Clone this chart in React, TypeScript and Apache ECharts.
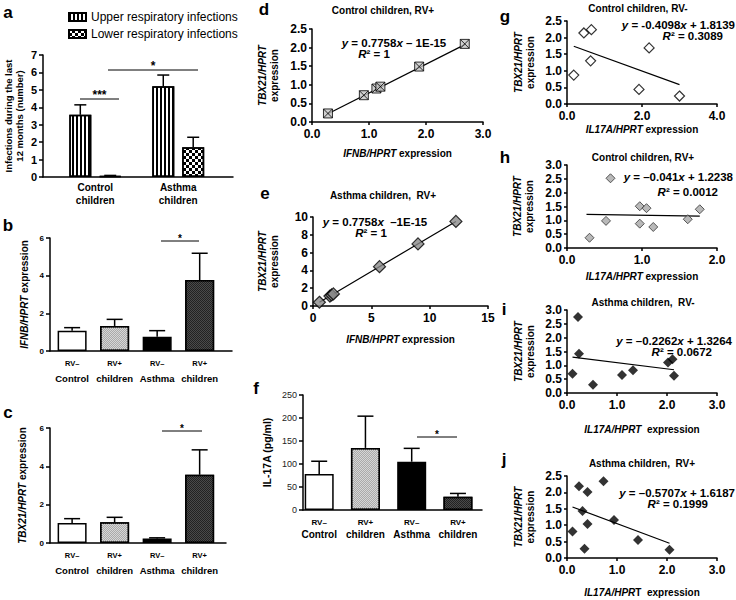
import React, { useEffect, useRef } from "react";
import * as echarts from "echarts";

const FONT = "Arial, 'Liberation Sans', Helvetica, sans-serif";

// ---------- Panel a ----------
const aGroups = ["Control\nchildren", "Asthma\nchildren"];
const aLegend = ["Upper respiratory infections", "Lower respiratory infections"];
const aUpperMean = [3.57, 5.2];
const aUpperSem = [0.57, 0.65];
const aLowerMean = [0.05, 1.71];
const aLowerSem = [0.04, 0.57];

// ---------- Panels b, c, f ----------
const rvRow = ["RV–", "RV+", "RV–", "RV+"];
const groupRow = ["Control", "children", "Asthma", "children"];
const bMean = [1.08, 1.33, 0.76, 3.77];
const bSem = [0.16, 0.35, 0.32, 1.42];
const cMean = [1.04, 1.08, 0.24, 3.56];
const cSem = [0.23, 0.26, 0.03, 1.3];
const fMean = [78, 135, 105, 29];
const fSem = [28, 69, 29, 7];

// ---------- Scatter panels ----------
const dX = [0.28, 0.91, 1.13, 1.2, 1.88, 2.68];
const dY = [0.23, 0.72, 0.9, 0.95, 1.49, 2.1];
const dFit = [[0.28, 0.22], [2.68, 2.08]];

const eX = [0.55, 1.45, 1.6, 1.75, 5.7, 9.0, 12.25];
const eY = [0.42, 1.12, 1.24, 1.36, 4.42, 6.98, 9.5];
const eFit = [[0.55, 0.43], [12.25, 9.5]];

const gX = [0.18, 0.45, 0.65, 0.63, 1.92, 2.19, 3.0];
const gY = [0.87, 2.14, 2.24, 1.3, 0.44, 1.69, 0.24];
const gFit = [[0.18, 1.74], [3.0, 0.585]];

const hX = [0.3, 0.58, 0.52, 0.97, 0.97, 1.06, 1.15, 1.61, 1.77];
const hY = [0.37, 2.52, 0.98, 1.51, 0.88, 1.44, 0.76, 1.04, 1.4];
const hFit = [[0.26, 1.213], [1.77, 1.151]];

const iX = [0.11, 0.22, 0.24, 0.52, 1.1, 1.32, 2.02, 2.11, 2.14];
const iY = [0.7, 2.75, 1.42, 0.3, 0.65, 0.82, 1.1, 1.22, 0.62];
const iFit = [[0.11, 1.3], [2.14, 0.84]];

const jX = [0.11, 0.24, 0.31, 0.35, 0.41, 0.41, 0.73, 0.94, 1.42, 2.05];
const jY = [0.81, 2.19, 1.43, 0.28, 2.01, 1.04, 2.34, 1.16, 0.55, 0.25];
const jFit = [[0.11, 1.556], [2.05, 0.449]];

// ---------- styles ----------
const decalStripes = {
  symbol: "rect", symbolSize: 1, color: "#000", backgroundColor: "#fff",
  dashArrayX: [2, 2], dashArrayY: [4, 0],
};
const decalChecker = {
  symbol: "rect", symbolSize: 1, color: "#000", backgroundColor: "#fff",
  dashArrayX: [[3, 3], [0, 3, 3, 0]], dashArrayY: [3, 0],
};
const decalLight = {
  symbol: "rect", symbolSize: 1, color: "#aaaaaa", backgroundColor: "#f0f0f0",
  dashArrayX: [[1, 1], [0, 1, 1, 0]], dashArrayY: [1, 0],
};
const decalDark = {
  symbol: "rect", symbolSize: 1, color: "#4a4a4a", backgroundColor: "#0a0a0a",
  dashArrayX: [[1, 1], [0, 1, 1, 0]], dashArrayY: [1, 0],
};
const barItemStyles = [
  { color: "#ffffff", borderColor: "#000", borderWidth: 1.5 },
  { color: "#d6d6d6", borderColor: "#000", borderWidth: 1.5, decal: decalLight },
  { color: "#000000", borderColor: "#000", borderWidth: 1.5 },
  { color: "#222222", borderColor: "#000", borderWidth: 1.5, decal: decalDark },
];

const axisLine = { show: true, lineStyle: { color: "#000", width: 1.5 } };
const tickOut = { show: true, inside: false, length: 4, lineStyle: { color: "#000", width: 1.5 } };
const italicRich = (size: number) => ({
  i: { fontStyle: "italic", fontWeight: "bold", fontSize: size, fontFamily: FONT, color: "#000" },
});

function errorSeries(axisIdx: number, means: number[], sems: number[], xs: number[], offset: number, cap: number) {
  return {
    type: "custom",
    xAxisIndex: axisIdx,
    yAxisIndex: axisIdx,
    z: 1,
    data: means.map((m, k) => [xs[k], m, m + sems[k]]),
    encode: { x: 0, y: [1, 2] },
    renderItem: (params: any, api: any) => {
      const lo = api.coord([api.value(0), api.value(1)]);
      const hi = api.coord([api.value(0), api.value(2)]);
      const x = lo[0] + offset;
      return {
        type: "group",
        children: [
          { type: "line", shape: { x1: x, y1: lo[1], x2: x, y2: hi[1] }, style: { stroke: "#000", lineWidth: 1.5 } },
          { type: "line", shape: { x1: x - cap / 2, y1: hi[1], x2: x + cap / 2, y2: hi[1] }, style: { stroke: "#000", lineWidth: 1.5 } },
        ],
      };
    },
  };
}

const pos4 = [1, 2, 3, 4];
const catLabel = (lh1: number, lh2: number, margin: number, s1: number, s2: number) => ({
  customValues: pos4,
  margin,
  formatter: (v: number) => {
    const k = Math.round(v) - 1;
    return `{r|${rvRow[k]}}\n{g|${groupRow[k]}}`;
  },
  rich: {
    r: { fontSize: s1, fontWeight: "bold", fontFamily: FONT, color: "#000", lineHeight: lh1 },
    g: { fontSize: s2, fontWeight: "bold", fontFamily: FONT, color: "#000", lineHeight: lh2 },
  },
});

function scatterAxes(idx: number, xr: [number, number, number], yr: [number, number, number], xDec: number, yDec: number, xName: string, xGap: number, yGap: number) {
  const labelStyle = { fontSize: 12, fontWeight: "bold", fontFamily: FONT, color: "#000" };
  return {
    x: {
      gridIndex: idx, type: "value", min: xr[0], max: xr[1], interval: xr[2],
      axisLine, axisTick: { ...tickOut, length: 3 }, splitLine: { show: false },
      axisLabel: { ...labelStyle, margin: 6, formatter: (v: number) => v.toFixed(xDec) },
      name: xName, nameLocation: "middle", nameGap: xGap,
      nameTextStyle: { fontSize: 10, fontWeight: "bold", fontFamily: FONT, color: "#000", rich: italicRich(10) },
    },
    y: {
      gridIndex: idx, type: "value", min: yr[0], max: yr[1], interval: yr[2],
      axisLine, axisTick: { ...tickOut, length: 3 }, splitLine: { show: false },
      axisLabel: { ...labelStyle, margin: 5, formatter: (v: number) => v.toFixed(yDec) },
      name: "{i|TBX21/HPRT}\nexpression", nameLocation: "middle", nameGap: yGap,
      nameTextStyle: { fontSize: 10, fontWeight: "bold", fontFamily: FONT, color: "#000", lineHeight: 12, rich: italicRich(10) },
    },
  };
}

function scatterSeries(idx: number, xs: number[], ys: number[], fit: number[][], symbol: string, size: number, itemStyle: any) {
  return [
    {
      type: "line", xAxisIndex: idx, yAxisIndex: idx, data: fit, symbol: "none",
      lineStyle: { color: "#000", width: 1.2 }, z: 2,
    },
    {
      type: "scatter", xAxisIndex: idx, yAxisIndex: idx, symbol, symbolSize: size,
      data: xs.map((x, k) => [x, ys[k]]), itemStyle, z: 3,
    },
  ];
}

const txt = (x: number, y: number, text: string, size: number, align = "center", extra: any = {}) => ({
  type: "text", x, y,
  style: {
    text, fontSize: size, fontWeight: "bold", fontFamily: FONT, fill: "#000",
    align, verticalAlign: "middle", textAlign: align, textVerticalAlign: "middle", ...extra,
  },
});
const eqRich = { i: { fontStyle: "italic", fontWeight: "bold", fontSize: 11.5, fontFamily: FONT, fill: "#000" } };
const eq = (x: number, y: number, text: string, align = "center") => txt(x, y, text, 11.5, align, { rich: eqRich });
const hline = (x1: number, x2: number, y: number) => ({
  type: "line", shape: { x1, y1: y, x2, y2: y }, style: { stroke: "#000", lineWidth: 1 },
});

export default function App() {
  const ref = useRef<HTMLDivElement>(null);
  useEffect(() => {
    if (!ref.current) return;
    const chart = echarts.init(ref.current, null, { renderer: "svg" });

    const sd = scatterAxes(3, [0, 3, 1], [0, 2.5, 0.5], 1, 1, "{i|IFNB/HPRT} expression", 26, 32);
    const se = scatterAxes(4, [0, 15, 5], [0, 10, 2], 0, 0, "{i|IFNB/HPRT} expression", 28, 33);
    const sg = scatterAxes(6, [0, 4, 2], [0, 2.5, 0.5], 1, 1, "{i|IL17A/HPRT} expression", 20, 31);
    const sh = scatterAxes(7, [0, 2, 1], [0, 3, 0.5], 1, 1, "{i|IL17A/HPRT} expression", 23, 32);
    const si = scatterAxes(8, [0, 3, 1], [0, 3, 0.5], 1, 1, "{i|IL17A/HPRT}  expression", 31, 31);
    const sj = scatterAxes(9, [0, 3, 1], [0, 2.5, 0.5], 1, 1, "{i|IL17A/HPR}T  expression", 29, 31);

    const aBarW = 22;
    const aGap = 0.36;
    const aOff = (aBarW * (1 + aGap)) / 2;

    const option: any = {
      animation: false,
      backgroundColor: "#fff",
      textStyle: { fontFamily: FONT },
      legend: {
        left: 63, top: 6, orient: "vertical", itemWidth: 17, itemHeight: 8, itemGap: 5,
        icon: "rect", selectedMode: false, data: aLegend,
        textStyle: { fontSize: 12, fontFamily: FONT, color: "#000" },
      },
      grid: [
        { left: 43, top: 55, width: 190, height: 122 },
        { left: 50, top: 238, width: 182, height: 113 },
        { left: 50, top: 428, width: 176, height: 115 },
        { left: 312, top: 29, width: 171, height: 93 },
        { left: 313, top: 217, width: 175, height: 89 },
        { left: 303, top: 395, width: 179, height: 115 },
        { left: 567, top: 21, width: 150, height: 83 },
        { left: 567, top: 165, width: 150, height: 83 },
        { left: 567, top: 310, width: 150, height: 83 },
        { left: 567, top: 476, width: 150, height: 82 },
      ],
      xAxis: [
        {
          gridIndex: 0, type: "value", min: 0.37, max: 2.66, axisLine, axisTick: { show: false }, splitLine: { show: false },
          axisLabel: {
            customValues: [1, 2], margin: 4, fontSize: 10, fontWeight: "bold", color: "#000", lineHeight: 13, fontFamily: FONT,
            formatter: (v: number) => aGroups[Math.round(v) - 1],
          },
        },
        { gridIndex: 1, type: "value", min: 0.48, max: 4.76, axisLine, axisTick: { show: false }, splitLine: { show: false }, axisLabel: catLabel(14, 16, 5, 7.5, 9.5) },
        { gridIndex: 2, type: "value", min: 0.48, max: 4.62, axisLine, axisTick: { show: false }, splitLine: { show: false }, axisLabel: catLabel(14, 16, 5, 7.5, 9.5) },
        sd.x, se.x,
        { gridIndex: 5, type: "value", min: 0.65, max: 4.52, axisLine, axisTick: { show: false }, splitLine: { show: false }, axisLabel: catLabel(12, 12, 6, 8, 10) },
        sg.x, sh.x, si.x, sj.x,
      ],
      yAxis: [
        {
          gridIndex: 0, type: "value", min: 0, max: 7, interval: 1, axisLine, axisTick: tickOut, splitLine: { show: false },
          axisLabel: { fontSize: 11, fontWeight: "bold", color: "#000", margin: 6, fontFamily: FONT },
          name: "Infections during the last\n12 months (number)", nameLocation: "middle", nameGap: 18,
          nameTextStyle: { fontSize: 9.5, fontWeight: "bold", color: "#000", lineHeight: 11, fontFamily: FONT },
        },
        {
          gridIndex: 1, type: "value", min: 0, max: 6, interval: 2, axisLine, axisTick: tickOut, splitLine: { show: false },
          axisLabel: { fontSize: 8, fontWeight: "bold", color: "#000", margin: 6, fontFamily: FONT },
          name: "{i|IFNB/HPRT} expression", nameLocation: "middle", nameGap: 21,
          nameTextStyle: { fontSize: 10, fontWeight: "bold", color: "#000", fontFamily: FONT, rich: italicRich(10) },
        },
        {
          gridIndex: 2, type: "value", min: 0, max: 6, interval: 2, axisLine, axisTick: tickOut, splitLine: { show: false },
          axisLabel: { fontSize: 8, fontWeight: "bold", color: "#000", margin: 6, fontFamily: FONT },
          name: "{i|TBX21/HPRT} expression", nameLocation: "middle", nameGap: 23,
          nameTextStyle: { fontSize: 10, fontWeight: "bold", color: "#000", fontFamily: FONT, rich: italicRich(10) },
        },
        sd.y, se.y,
        {
          gridIndex: 5, type: "value", min: 0, max: 250, interval: 50, axisLine, axisTick: tickOut, splitLine: { show: false },
          axisLabel: { fontSize: 9, color: "#222", margin: 6, fontFamily: FONT },
          name: "IL-17A (pg/ml)", nameLocation: "middle", nameGap: 31,
          nameTextStyle: { fontSize: 10.5, fontWeight: "bold", color: "#000", fontFamily: FONT },
        },
        sg.y, sh.y, si.y, sj.y,
      ],
      series: [
        {
          name: aLegend[0], type: "bar", xAxisIndex: 0, yAxisIndex: 0, barWidth: aBarW, barGap: `${aGap * 100}%`,
          data: aUpperMean.map((v, k) => [k + 1, v]),
          itemStyle: { color: "#fff", borderColor: "#000", borderWidth: 1.5, decal: decalStripes }, z: 2,
        },
        {
          name: aLegend[1], type: "bar", xAxisIndex: 0, yAxisIndex: 0, barWidth: aBarW, barGap: `${aGap * 100}%`,
          data: aLowerMean.map((v, k) => [k + 1, v]),
          itemStyle: { color: "#fff", borderColor: "#000", borderWidth: 1.5, decal: decalChecker }, z: 2,
        },
        errorSeries(0, aUpperMean, aUpperSem, [1, 2], -aOff, 12),
        errorSeries(0, aLowerMean, aLowerSem, [1, 2], aOff, 12),

        { type: "bar", xAxisIndex: 1, yAxisIndex: 1, barWidth: 29, z: 2, data: bMean.map((v, k) => ({ value: [pos4[k], v], itemStyle: barItemStyles[k] })) },
        errorSeries(1, bMean, bSem, pos4, 0, 16),
        { type: "bar", xAxisIndex: 2, yAxisIndex: 2, barWidth: 29, z: 2, data: cMean.map((v, k) => ({ value: [pos4[k], v], itemStyle: barItemStyles[k] })) },
        errorSeries(2, cMean, cSem, pos4, 0, 16),
        { type: "bar", xAxisIndex: 5, yAxisIndex: 5, barWidth: 29, z: 2, data: fMean.map((v, k) => ({ value: [pos4[k], v], itemStyle: barItemStyles[k] })) },
        errorSeries(5, fMean, fSem, pos4, 0, 16),

        ...scatterSeries(3, dX, dY, dFit, "path://M0,0L10,0L10,10L0,10Z M0,0L10,10 M10,0L0,10", 9, { color: "#c4c4c4", borderColor: "#000", borderWidth: 1 }),
        ...scatterSeries(4, eX, eY, eFit, "diamond", 12, { color: "#8a8a8a", borderColor: "#000", borderWidth: 1.2 }),
        ...scatterSeries(6, gX, gY, gFit, "diamond", 10, { color: "#fff", borderColor: "#000", borderWidth: 1.2 }),
        ...scatterSeries(7, hX, hY, hFit, "diamond", 9, { color: "#a8a8a8", borderColor: "#333", borderWidth: 1 }),
        ...scatterSeries(8, iX, iY, iFit, "diamond", 10, { color: "#000" }),
        ...scatterSeries(9, jX, jY, jFit, "diamond", 10, { color: "#000" }),
      ],
      graphic: [
        txt(8, 12, "a", 17), txt(8, 225, "b", 17), txt(8, 412, "c", 17),
        txt(264, 9, "d", 17), txt(265, 193, "e", 17), txt(256, 388, "f", 17),
        txt(505, 16, "g", 17), txt(505, 157, "h", 17), txt(504, 309, "i", 17), txt(504, 459, "j", 17),

        txt(383, 10, "Control children, RV+", 10),
        txt(383, 195, "Asthma children,  RV+", 10),
        txt(638, 8, "Control children, RV-", 10),
        txt(643, 157, "Control children, RV+", 10),
        txt(643, 302, "Asthma children,  RV-", 10),
        txt(642, 463, "Asthma children,  RV+", 10),

        eq(394, 43, "{i|y} = 0.7758{i|x} – 1E-15"), eq(374, 54, "{i|R}² = 1"),
        eq(375, 222, "{i|y} = 0.7758{i|x}  –1E-15"), eq(371, 233, "{i|R}² = 1"),
        eq(735, 25, "{i|y} = -0.4098{i|x} + 1.8139", "right"), eq(723, 36, "{i|R}² = 0.3089", "right"),
        eq(733, 177, "{i|y} = –0.041{i|x} + 1.2238", "right"), eq(718, 192, "{i|R}² = 0.0012", "right"),
        eq(732, 341, "{i|y} = –0.2262{i|x} + 1.3264", "right"), eq(712, 352, "{i|R}² = 0.0672", "right"),
        eq(735, 493, "{i|y} = –0.5707{i|x} + 1.6187", "right"), eq(708, 504, "{i|R}² = 0.1999", "right"),

        hline(80, 119, 99), txt(99.5, 95, "***", 12),
        hline(108, 198, 70), txt(153, 66, "*", 12),
        hline(161, 199, 241), txt(180, 238, "*", 10),
        hline(162, 202, 431), txt(182, 428, "*", 10),
        hline(417, 457, 437), txt(437, 434, "*", 10),
      ],
    };
    chart.setOption(option);
    return () => chart.dispose();
  }, []);
  return <div ref={ref} style={{ position: "absolute", left: 0, top: 0, width: 736, height: 600 }} />;
}
